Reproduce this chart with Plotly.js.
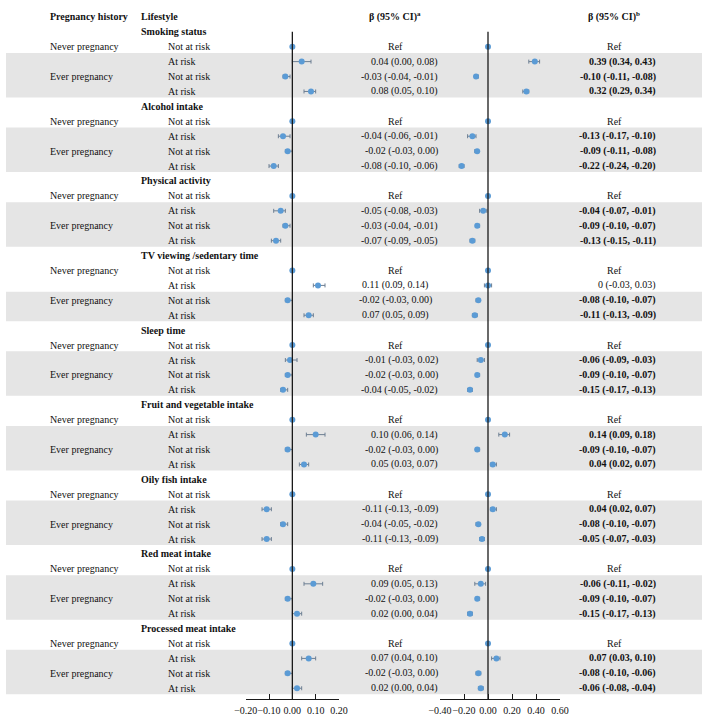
<!DOCTYPE html>
<html><head><meta charset="utf-8">
<script src="https://cdn.plot.ly/plotly-3.0.1.min.js"></script>
<style>html,body{margin:0;padding:0;background:#fff}</style>
</head><body>
<div id="chart" style="width:708px;height:721px"></div>
<script>
// ---------- DATA ----------
const groups = ['Smoking status','Alcohol intake','Physical activity','TV viewing /sedentary time','Sleep time','Fruit and vegetable intake','Oily fish intake','Red meat intake','Processed meat intake'];
const riskLabels = ['Not at risk','At risk','Not at risk','At risk'];
const pregLabels = ['Never pregnancy','','Ever pregnancy',''];
// Each group: [At risk (never pregnancy), Not at risk (ever pregnancy), At risk (ever pregnancy)]; first row is the reference
const betaA = [[0.04,-0.03,0.08],[-0.04,-0.02,-0.08],[-0.05,-0.03,-0.07],[0.11,-0.02,0.07],[-0.01,-0.02,-0.04],[0.10,-0.02,0.05],[-0.11,-0.04,-0.11],[0.09,-0.02,0.02],[0.07,-0.02,0.02]];
const lowA  = [[0.00,-0.04,0.05],[-0.06,-0.03,-0.10],[-0.08,-0.04,-0.09],[0.09,-0.03,0.05],[-0.03,-0.03,-0.05],[0.06,-0.03,0.03],[-0.13,-0.05,-0.13],[0.05,-0.03,0.00],[0.04,-0.03,0.00]];
const highA = [[0.08,-0.01,0.10],[-0.01,0.00,-0.06],[-0.03,-0.01,-0.05],[0.14,0.00,0.09],[0.02,0.00,-0.02],[0.14,0.00,0.07],[-0.09,-0.02,-0.09],[0.13,0.00,0.04],[0.10,0.00,0.04]];
const betaB = [[0.39,-0.10,0.32],[-0.13,-0.09,-0.22],[-0.04,-0.09,-0.13],[0,-0.08,-0.11],[-0.06,-0.09,-0.15],[0.14,-0.09,0.04],[0.04,-0.08,-0.05],[-0.06,-0.09,-0.15],[0.07,-0.08,-0.06]];
const lowB  = [[0.34,-0.11,0.29],[-0.17,-0.11,-0.24],[-0.07,-0.10,-0.15],[-0.03,-0.10,-0.13],[-0.09,-0.10,-0.17],[0.09,-0.10,0.02],[0.02,-0.10,-0.07],[-0.11,-0.10,-0.17],[0.03,-0.10,-0.08]];
const highB = [[0.43,-0.08,0.34],[-0.10,-0.08,-0.20],[-0.01,-0.07,-0.11],[0.03,-0.07,-0.09],[-0.03,-0.07,-0.13],[0.18,-0.07,0.07],[0.07,-0.07,-0.03],[-0.02,-0.07,-0.13],[0.10,-0.06,-0.04]];
const ticksA = [-0.2,-0.1,0,0.1,0.2];
const ticksB = [-0.4,-0.2,0,0.2,0.4,0.6];

// ---------- LAYOUT HELPERS ----------
const W = 708;
const px = v => v / W;
const FONT = '"Liberation Serif", "Times New Roman", serif';
const shadeFrom = [2,2,2,3,2,2,2,2,2];
const centeredA = [3];
const ROWS_BOTTOM = 44.72, ROWS_TOP = -2.13;

const ann = [];
function txt(xp, y, text, anchor, bold){
  ann.push({xref:'paper', yref:'y', x:px(xp), y:y, text: bold ? '<b>'+text+'</b>' : text,
    xanchor:anchor, yanchor:'middle', showarrow:false, borderpad:0, borderwidth:0,
    font:{family:FONT, size:10, color:'#111'}});
}
const fmt = v => v === 0 ? '0' : v.toFixed(2);

// headers
txt(50, -1, 'Pregnancy history', 'left', true);
txt(141, -1, 'Lifestyle', 'left', true);
txt(395, -1, 'β (95% CI)<sup>a</sup>', 'center', true);
txt(614, -1, 'β (95% CI)<sup>b</sup>', 'center', true);

const shapes = [];
const refY = [], estY = [];
const xA = [], pA = [], mA = [], xB = [], pB = [], mB = [];

groups.forEach((g, gi) => {
  const base = gi * 5;
  txt(141, base, g, 'left', true);
  riskLabels.forEach((r, k) => txt(168, base + k + 1, r, 'left', false));
  pregLabels.forEach((p, k) => { if (p) txt(50, base + k + 1, p, 'left', false); });
  shapes.push({type:'rect', xref:'paper', yref:'y', x0:px(6), x1:px(702),
    y0: base + shadeFrom[gi] - 0.58, y1: base + 4 + 0.4,
    fillcolor:'#e5e5e5', line:{width:0}, layer:'below'});
  refY.push(base + 1);
  txt(395, base + 1, 'Ref', 'center', false);
  txt(614, base + 1, 'Ref', 'center', false);
  for (let k = 0; k < 3; k++) {
    const y = base + k + 2;
    estY.push(y);
    const a = betaA[gi][k], la = lowA[gi][k], ha = highA[gi][k];
    const b = betaB[gi][k], lb = lowB[gi][k], hb = highB[gi][k];
    xA.push(a); pA.push(ha - a); mA.push(a - la);
    xB.push(b); pB.push(hb - b); mB.push(b - lb);
    const tA = fmt(a) + ' (' + la.toFixed(2) + ', ' + ha.toFixed(2) + ')';
    if (centeredA.includes(gi)) txt(395, y, tA, 'center', false);
    else txt(438, y, tA, 'right', false);
    const tB = fmt(b) + ' (' + lb.toFixed(2) + ', ' + hb.toFixed(2) + ')';
    txt(656, y, tB, 'right', (lb > 0 || hb < 0));
  }
});

// zero lines
['x','x2'].forEach(xr => shapes.push({type:'line', xref:xr, yref:'y', x0:0, x1:0, y0:0, y1:ROWS_BOTTOM,
  line:{color:'#1a1a1a', width:1.3}, layer:'above'}));

const marker = {color:'#5b9bd5', size:6};
const errStyle = {color:'#6d7f93', thickness:1, width:2};
const traces = [
  {type:'scatter', mode:'markers', x:xA, y:estY, xaxis:'x', yaxis:'y', marker:marker,
    error_x:Object.assign({type:'data', symmetric:false, array:pA, arrayminus:mA}, errStyle), hoverinfo:'skip', cliponaxis:false},
  {type:'scatter', mode:'markers', x:refY.map(()=>0), y:refY, xaxis:'x', yaxis:'y', marker:marker, hoverinfo:'skip', cliponaxis:false},
  {type:'scatter', mode:'markers', x:xB, y:estY, xaxis:'x2', yaxis:'y', marker:marker,
    error_x:Object.assign({type:'data', symmetric:false, array:pB, arrayminus:mB}, errStyle), hoverinfo:'skip', cliponaxis:false},
  {type:'scatter', mode:'markers', x:refY.map(()=>0), y:refY, xaxis:'x2', yaxis:'y', marker:marker, hoverinfo:'skip', cliponaxis:false}
];

const axisCommon = {showgrid:false, zeroline:false, showline:true, linecolor:'#1a1a1a', linewidth:1,
  ticks:'inside', ticklen:5, tickcolor:'#1a1a1a', tickwidth:1, tickformat:'.2f', tickmode:'array',
  tickangle:0, automargin:false, ticklabelstandoff:2,
  tickfont:{family:FONT, size:10, color:'#111'}, anchor:'y', fixedrange:true};

const layout = {
  width:708, height:721, showlegend:false,
  margin:{l:0, r:0, t:0, b:22, pad:0},
  paper_bgcolor:'#ffffff', plot_bgcolor:'rgba(0,0,0,0)',
  xaxis: Object.assign({}, axisCommon, {domain:[px(245.7), px(339)], range:[-0.2,0.2], tickvals:ticksA}),
  xaxis2: Object.assign({}, axisCommon, {domain:[px(440), px(560)], range:[-0.4,0.6], tickvals:ticksB}),
  yaxis: {range:[ROWS_BOTTOM, ROWS_TOP], visible:false, fixedrange:true, domain:[0,1]},
  shapes: shapes, annotations: ann
};

Plotly.newPlot('chart', traces, layout, {staticPlot:true, displayModeBar:false});
</script>
</body></html>
